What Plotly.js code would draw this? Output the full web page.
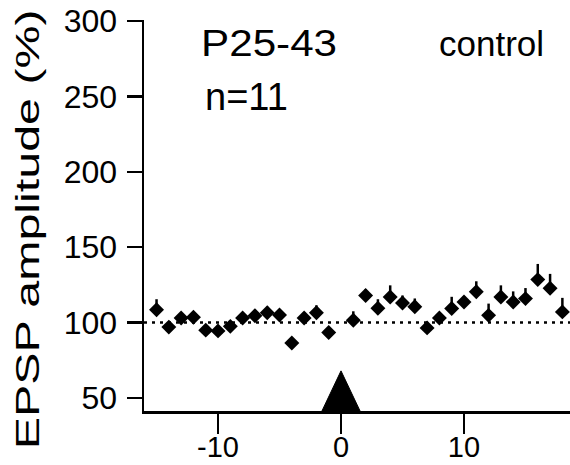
<!DOCTYPE html>
<html>
<head>
<meta charset="utf-8">
<script src="https://cdn.plot.ly/plotly-3.0.1.min.js"></script>
<style>
  html, body { margin: 0; padding: 0; background: #fff; }
  #chart { width: 570px; height: 465px; }
</style>
</head>
<body>
<div id="chart"></div>
<script>
// ---- data ----
const times = [-15, -14, -13, -12, -11, -10, -9, -8, -7, -6, -5, -4, -3, -2, -1,
               1, 2, 3, 4, 5, 6, 7, 8, 9, 10, 11, 12, 13, 14, 15, 16, 17, 18, 19];
const amplitude = [108.5, 97, 103, 103.5, 95, 94.5, 97.5, 103, 104.5, 106.5, 105, 86.5, 103, 106.5, 93.5,
                   101.5, 118, 109.5, 117, 113, 110.5, 96.5, 103, 109.3, 113.7, 120.4, 104.8, 117, 113.7, 115.9, 128.5, 122.8, 107.1, 122];
const sem = [7, 3, 3, 3, 3, 3, 3, 3.5, 4, 4, 3.5, 3, 4, 5, 3,
             6, 4, 6, 7.7, 5, 5.5, 4, 4, 7.8, 4, 7, 7.8, 7.7, 7, 7, 10.4, 9.5, 9.3, 8];
const baseline = [100];
const stimulus = [0];
const yTicks = [50, 100, 150, 200, 250, 300];
const xTicks = [-10, 0, 10];

// ---- layout geometry ----
const W = 570, H = 465;
const M = {l: 144, r: 0, t: 20, b: 54};
const xRange = [-16.02, 18.62];
const yRange = [41.38, 300.66];
const px = v => (v - M.l) / (W - M.l - M.r);
const py = v => (H - M.b - v) / (H - M.t - M.b);
const FONT = 'Liberation Sans, Arial, Helvetica, sans-serif';

const zerosArr = amplitude.map(() => 0);

const traces = [
  {
    x: [xRange[0], xRange[1] + 1],
    y: [baseline[0], baseline[0]],
    mode: 'lines',
    line: {color: '#000', width: 2.5, dash: '3px,5px'},
    hoverinfo: 'skip',
    showlegend: false,
    cliponaxis: true
  },
  {
    x: [stimulus[0] - 1.55, stimulus[0], stimulus[0] + 1.55, stimulus[0] - 1.55],
    y: [yRange[0], 68, yRange[0], yRange[0]],
    mode: 'lines',
    fill: 'toself',
    fillcolor: '#000',
    line: {color: '#000', width: 1},
    hoverinfo: 'skip',
    showlegend: false
  },
  {
    x: times,
    y: amplitude,
    mode: 'markers',
    type: 'scatter',
    marker: {symbol: 'diamond', size: 11.5, color: '#000'},
    error_y: {type: 'data', symmetric: false, array: sem, arrayminus: zerosArr,
              width: 0, thickness: 2.5, color: '#000'},
    showlegend: false,
    cliponaxis: false
  }
];

const layout = {
  width: W, height: H,
  margin: M,
  paper_bgcolor: '#fff',
  plot_bgcolor: '#fff',
  showlegend: false,
  font: {family: FONT, color: '#000'},
  xaxis: {
    range: xRange,
    showgrid: false, zeroline: false,
    showline: true, linecolor: '#000', linewidth: 2.5,
    ticks: 'outside', ticklen: 20, tickwidth: 2.5, tickcolor: '#000',
    tickvals: xTicks, ticktext: xTicks.map(String),
    tickfont: {family: FONT, size: 29, color: '#000'},
    ticklabelstandoff: -11
  },
  yaxis: {
    range: yRange,
    showgrid: false, zeroline: false,
    showline: true, linecolor: '#000', linewidth: 2.5,
    ticks: 'outside', ticklen: 15, tickwidth: 2.5, tickcolor: '#000',
    tickvals: yTicks, ticktext: yTicks.map(String),
    tickfont: {family: FONT, size: 32, color: '#000'},
    ticklabelstandoff: 3
  },
  annotations: [
    {text: 'EPSP amplitude (%)', textangle: -90, xref: 'paper', yref: 'paper',
     x: px(27), y: py(230), xanchor: 'center', yanchor: 'middle', showarrow: false,
     font: {family: FONT, size: 34, color: '#000'}},
    {text: 'P25-43', xref: 'paper', yref: 'paper', x: px(269), y: py(44),
     xanchor: 'center', yanchor: 'middle', showarrow: false,
     font: {family: FONT, size: 36, color: '#000'}},
    {text: 'n=11', xref: 'paper', yref: 'paper', x: px(246), y: py(97),
     xanchor: 'center', yanchor: 'middle', showarrow: false,
     font: {family: FONT, size: 38, color: '#000'}},
    {text: 'control', xref: 'paper', yref: 'paper', x: px(491), y: py(44),
     xanchor: 'center', yanchor: 'middle', showarrow: false,
     font: {family: FONT, size: 35, color: '#000'}}
  ]
};

// stretch long labels along their baseline to match the reference proportions
const stretch = {0: 440, 1: 136};

Plotly.newPlot('chart', traces, layout, {staticPlot: true, displayModeBar: false}).then(gd => {
  Object.keys(stretch).forEach(i => {
    const t = gd.querySelector('.annotation[data-index="' + i + '"] text.annotation-text');
    if (t) {
      t.setAttribute('textLength', stretch[i]);
      t.setAttribute('lengthAdjust', 'spacingAndGlyphs');
    }
  });
});
</script>
</body>
</html>
